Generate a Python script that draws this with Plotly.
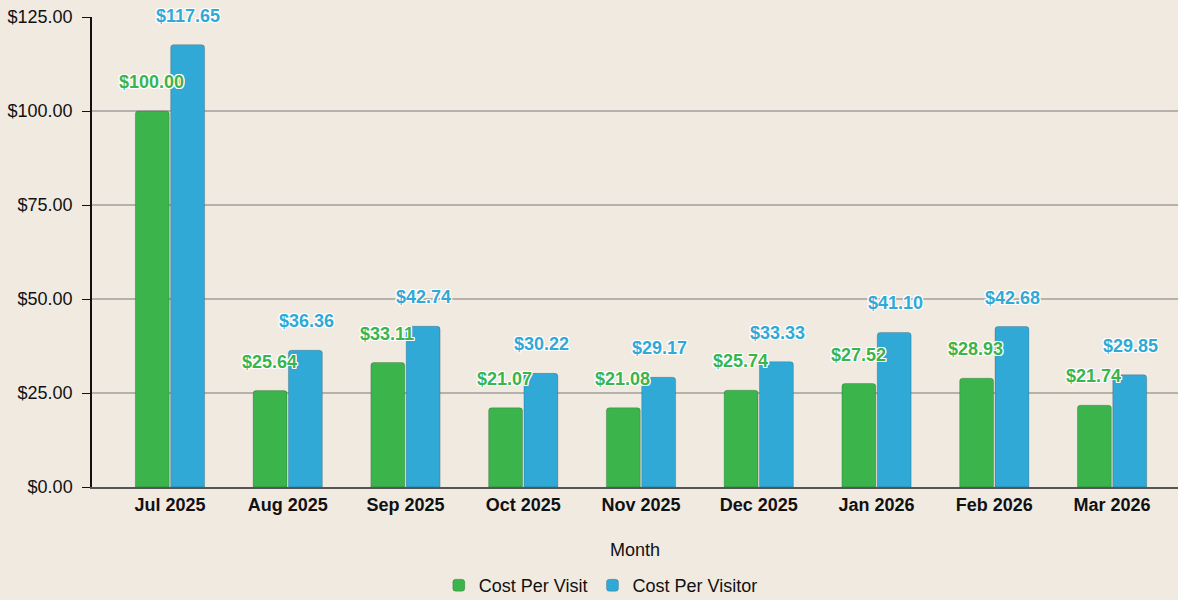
import plotly.graph_objects as go

months = ["Jul 2025", "Aug 2025", "Sep 2025", "Oct 2025", "Nov 2025",
          "Dec 2025", "Jan 2026", "Feb 2026", "Mar 2026"]
cost_per_visit = [100.00, 25.64, 33.11, 21.07, 21.08, 25.74, 27.52, 28.93, 21.74]
cost_per_visitor = [117.65, 36.36, 42.74, 30.22, 29.17, 33.33, 41.10, 42.68, 29.85]
y_ticks = [0, 25, 50, 75, 100, 125]

GREEN = "#3ab44b"
BLUE = "#31a9d6"
BG = "#f1eae1"
FONT = "Liberation Sans, Arial, Helvetica, sans-serif"

fig = go.Figure()
fig.add_trace(go.Bar(name="Cost Per Visit", x=months, y=cost_per_visit,
                     marker=dict(color=GREEN, line=dict(color="rgba(0,0,0,0.18)", width=1),
                                 cornerradius=3)))
fig.add_trace(go.Bar(name="Cost Per Visitor", x=months, y=cost_per_visitor,
                     marker=dict(color=BLUE, line=dict(color="rgba(0,0,0,0.18)", width=1),
                                 cornerradius=3)))

shadow = ("1px 1px 0 #fff, -1px -1px 0 #fff, 1px -1px 0 #fff, -1px 1px 0 #fff, "
          "0 1px 0 #fff, 0 -1px 0 #fff, 1px 0 0 #fff, -1px 0 0 #fff")
annotations = []
for vals, color, shift in [(cost_per_visit, GREEN, -18.5), (cost_per_visitor, BLUE, 18.5)]:
    for m, v in zip(months, vals):
        annotations.append(dict(
            x=m, y=v, xref="x", yref="y", text=f"${v:,.2f}", showarrow=False,
            xshift=shift, yshift=29, yanchor="middle", xanchor="center",
            font=dict(family=FONT, size=18, color=color, weight="bold", shadow=shadow)))

fig.update_layout(
    width=1178, height=600,
    paper_bgcolor=BG, plot_bgcolor=BG,
    margin=dict(l=92, r=0, t=17, b=113),
    barmode="group", bargap=0.4, bargroupgap=0.04,
    font=dict(family=FONT, size=18, color="#111"),
    annotations=annotations,
    showlegend=True,
    legend=dict(orientation="h", xref="container", yref="container",
                x=0.51, xanchor="center", y=0.024, yanchor="middle",
                font=dict(size=18, color="#111"), bgcolor="rgba(0,0,0,0)"),
    xaxis=dict(
        title=dict(text="Month", font=dict(size=18, color="#111"), standoff=30),
        range=[-0.662, 8.56], showgrid=False, showline=True, linecolor="#555", linewidth=2,
        tickfont=dict(size=18, color="#111", weight="bold"), ticks="",
    ),
    yaxis=dict(
        range=[0, 125], tickvals=y_ticks, tickformat="$,.2f",
        showgrid=True, gridcolor="#b5b2ad", gridwidth=1.5,
        showline=True, linecolor="#111", linewidth=1.5,
        ticks="outside", ticklen=8, tickcolor="#111", ticklabelstandoff=6,
        tickfont=dict(size=18, color="#111"), zeroline=False,
    ),
)

fig.write_html("out.html", config={"displayModeBar": False},
               post_script="document.body.style.margin='0';document.body.style.overflow='hidden';")
